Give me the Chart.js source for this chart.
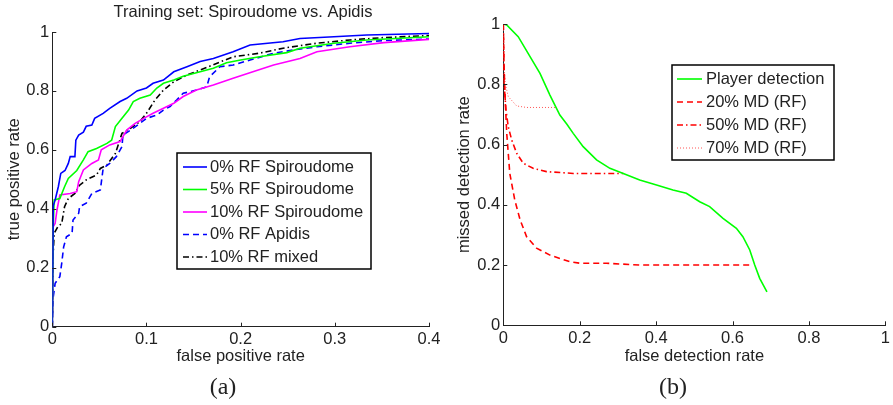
<!DOCTYPE html>
<html>
<head>
<meta charset="utf-8">
<script src="https://cdn.jsdelivr.net/npm/chart.js@4.4.0/dist/chart.umd.min.js"></script>
<style>
  body { margin: 0; background: #fff; }
  #wrap { position: relative; width: 893px; height: 405px; }
  canvas { position: absolute; top: 0; }
</style>
</head>
<body>
<div id="wrap">
  <canvas id="rocA" width="445" height="405" style="left:0"></canvas>
  <canvas id="rocB" width="448" height="405" style="left:445px"></canvas>
</div>
<script>
// ---- tick labels ----
const fprTicks = [0, 0.1, 0.2, 0.3, 0.4];
const rateTicks = [0, 0.2, 0.4, 0.6, 0.8, 1];
const fdrTicks = [0, 0.2, 0.4, 0.6, 0.8, 1];

// ---- (a) ROC curves, [fpr, tpr] ----
const rf0Spiro = [[0,0],[0.001,0.41],[0.003,0.43],[0.0064,0.475],[0.009,0.52],[0.0135,0.53],[0.017,0.554],
  [0.019,0.577],[0.024,0.577],[0.025,0.633],[0.028,0.65],[0.033,0.66],[0.036,0.68],[0.042,0.684],[0.045,0.707],
  [0.054,0.724],[0.061,0.741],[0.072,0.764],[0.079,0.775],[0.09,0.80],[0.10,0.81],[0.107,0.826],[0.118,0.837],
  [0.129,0.865],[0.143,0.882],[0.157,0.90],[0.171,0.91],[0.192,0.933],[0.21,0.956],[0.245,0.967],[0.263,0.978],
  [0.299,0.984],[0.334,0.99],[0.4,0.995]];
const rf5Spiro = [[0,0],[0.001,0.34],[0.002,0.43],[0.008,0.435],[0.013,0.475],[0.017,0.503],[0.026,0.53],
  [0.033,0.566],[0.038,0.594],[0.047,0.605],[0.058,0.622],[0.063,0.633],[0.067,0.679],[0.074,0.707],[0.081,0.735],
  [0.086,0.764],[0.093,0.775],[0.104,0.786],[0.111,0.81],[0.118,0.826],[0.129,0.837],[0.139,0.85],[0.157,0.865],
  [0.171,0.877],[0.185,0.896],[0.2,0.905],[0.22,0.916],[0.249,0.93],[0.263,0.945],[0.299,0.962],[0.334,0.973],
  [0.4,0.984]];
const rf10Spiro = [[0,0],[0.001,0.34],[0.003,0.35],[0.005,0.396],[0.008,0.447],[0.019,0.452],[0.026,0.458],
  [0.028,0.492],[0.033,0.532],[0.042,0.554],[0.049,0.566],[0.052,0.6],[0.061,0.617],[0.072,0.628],[0.079,0.667],
  [0.088,0.69],[0.097,0.707],[0.107,0.724],[0.118,0.741],[0.129,0.758],[0.139,0.781],[0.153,0.803],[0.171,0.82],
  [0.192,0.843],[0.213,0.865],[0.235,0.888],[0.263,0.91],[0.281,0.933],[0.316,0.95],[0.352,0.964],[0.4,0.975]];
const rf0Apidis = [[0,0],[0.001,0.10],[0.003,0.147],[0.008,0.17],[0.01,0.215],[0.012,0.27],[0.015,0.305],
  [0.021,0.317],[0.022,0.362],[0.028,0.385],[0.029,0.407],[0.036,0.419],[0.042,0.452],[0.051,0.464],[0.054,0.537],
  [0.061,0.554],[0.068,0.577],[0.074,0.611],[0.075,0.65],[0.083,0.667],[0.093,0.69],[0.10,0.707],[0.111,0.718],
  [0.118,0.735],[0.125,0.747],[0.132,0.769],[0.139,0.792],[0.153,0.803],[0.164,0.814],[0.167,0.848],[0.178,0.882],
  [0.192,0.888],[0.21,0.905],[0.235,0.928],[0.256,0.939],[0.281,0.95],[0.316,0.962],[0.352,0.971],[0.4,0.976]];
const rf10Mixed = [[0,0],[0.001,0.25],[0.002,0.317],[0.006,0.34],[0.01,0.35],[0.013,0.407],[0.017,0.435],
  [0.024,0.452],[0.029,0.48],[0.036,0.498],[0.047,0.515],[0.051,0.537],[0.058,0.549],[0.067,0.588],[0.074,0.656],
  [0.083,0.673],[0.093,0.696],[0.10,0.724],[0.109,0.769],[0.118,0.803],[0.129,0.831],[0.143,0.854],[0.157,0.871],
  [0.175,0.894],[0.192,0.916],[0.22,0.928],[0.245,0.945],[0.281,0.962],[0.316,0.973],[0.352,0.981],[0.4,0.988]];

// ---- (b) DET curves, [false detection, missed detection] ----
const playerDet = [[0,1],[0.009,0.997],[0.039,0.958],[0.07,0.892],[0.096,0.836],[0.122,0.764],[0.148,0.698],
  [0.166,0.668],[0.183,0.637],[0.209,0.593],[0.244,0.549],[0.279,0.521],[0.314,0.504],[0.357,0.482],[0.401,0.466],
  [0.444,0.449],[0.479,0.438],[0.514,0.41],[0.54,0.394],[0.575,0.355],[0.61,0.322],[0.627,0.294],[0.645,0.25],
  [0.658,0.2],[0.671,0.156],[0.69,0.111]];
const md20 = [[0,1],[0.002,0.858],[0.005,0.748],[0.009,0.637],[0.017,0.504],[0.03,0.416],[0.044,0.35],
  [0.061,0.294],[0.087,0.256],[0.122,0.233],[0.174,0.211],[0.2,0.206],[0.27,0.206],[0.357,0.2],[0.653,0.2]];
const md50 = [[0,1],[0.002,0.803],[0.007,0.715],[0.013,0.659],[0.022,0.615],[0.035,0.571],[0.052,0.538],
  [0.078,0.521],[0.113,0.51],[0.183,0.504],[0.314,0.504]];
const md70 = [[0,1],[0.002,0.858],[0.005,0.803],[0.013,0.759],[0.035,0.728],[0.061,0.723],[0.139,0.723]];

const FONT = '"Liberation Sans", Arial, sans-serif';
const CAPTION = '24px "Liberation Serif", "DejaVu Serif", serif';
const TXT = '#222';
const pts = a => a.map(p => ({ x: p[0], y: p[1] }));

// ticks drawn inside the axes, matlab style
const inTicks = {
  id: 'inTicks',
  afterDatasetsDraw(chart) {
    const { ctx, chartArea: a, scales: { x, y } } = chart;
    ctx.save();
    ctx.strokeStyle = TXT;
    ctx.lineWidth = 1;
    ctx.beginPath();
    x.ticks.forEach(t => {
      const px = Math.round(x.getPixelForValue(t.value)) + 0.5;
      ctx.moveTo(px, a.bottom); ctx.lineTo(px, a.bottom - 4);
    });
    y.ticks.forEach(t => {
      const py = Math.round(y.getPixelForValue(t.value)) + 0.5;
      ctx.moveTo(a.left, py); ctx.lineTo(a.left + 4, py);
    });
    ctx.stroke();
    ctx.restore();
  }
};

// boxed legend inside the plot
const boxLegend = {
  id: 'boxLegend',
  afterDraw(chart, args, o) {
    const ctx = chart.ctx;
    ctx.save();
    ctx.fillStyle = '#fff';
    ctx.fillRect(o.x, o.y, o.w, o.h);
    ctx.strokeStyle = '#000';
    ctx.lineWidth = 1.5;
    ctx.strokeRect(o.x, o.y, o.w, o.h);
    ctx.font = '16.5px ' + FONT;
    ctx.textBaseline = 'middle';
    chart.data.datasets.forEach((ds, i) => {
      const cy = o.y + o.first + i * o.rowH;
      ctx.strokeStyle = ds.borderColor;
      ctx.lineWidth = ds.borderWidth;
      ctx.setLineDash(ds.borderDash || []);
      ctx.beginPath();
      ctx.moveTo(o.x + o.lineX, cy);
      ctx.lineTo(o.x + o.lineX + o.lineLen, cy);
      ctx.stroke();
      ctx.setLineDash([]);
      ctx.fillStyle = TXT;
      ctx.fillText(ds.label, o.x + o.textX, cy);
    });
    ctx.restore();
  }
};

// title and caption
const texts = {
  id: 'texts',
  afterDraw(chart, args, o) {
    const ctx = chart.ctx;
    ctx.save();
    ctx.textAlign = 'center';
    ctx.textBaseline = 'middle';
    ctx.fillStyle = TXT;
    o.items.forEach(t => {
      ctx.font = t.font;
      ctx.fillText(t.text, t.x, t.y);
    });
    ctx.restore();
  }
};

function axis(ticks, min, max, title, fit, titlePad) {
  return {
    type: 'linear',
    min: min,
    max: max,
    afterBuildTicks: s => { s.ticks = ticks.map(v => ({ value: v })); },
    afterFit: fit,
    grid: { display: false, drawTicks: false },
    border: { display: true, color: TXT, width: 1 },
    ticks: { color: TXT, padding: 3, font: { family: FONT, size: 16.5 }, callback: v => String(v) },
    title: { display: true, text: title, color: TXT, font: { family: FONT, size: 16.5 }, padding: titlePad }
  };
}

function line(label, data, color, dash, width) {
  return {
    label: label,
    data: pts(data),
    borderColor: color,
    borderWidth: width || 1.6,
    borderDash: dash,
    pointRadius: 0,
    fill: false,
    tension: 0
  };
}

new Chart(document.getElementById('rocA'), {
  type: 'line',
  data: {
    datasets: [
      line('0% RF Spiroudome', rf0Spiro, '#0000ff', []),
      line('5% RF Spiroudome', rf5Spiro, '#00ff00', []),
      line('10% RF Spiroudome', rf10Spiro, '#ff00ff', []),
      line('0% RF Apidis', rf0Apidis, '#0000ff', [6, 4]),
      line('10% RF mixed', rf10Mixed, '#000000', [6, 3, 1.5, 3])
    ]
  },
  options: {
    responsive: false,
    animation: false,
    layout: { padding: { top: 32, right: 16, left: 0, bottom: 0 } },
    scales: {
      x: axis(fprTicks, 0, 0.4, 'false positive rate', s => { s.height = 78.3; }, { top: 0, bottom: 39 }),
      y: axis(rateTicks, 0, 1, 'true positive rate', s => { s.width = 52.3; }, { top: 5, bottom: 0 })
    },
    plugins: {
      legend: { display: false },
      tooltip: { enabled: false },
      boxLegend: { x: 177, y: 153, w: 194, h: 116, first: 14, rowH: 22.5, lineX: 6, lineLen: 24, textX: 33 },
      texts: { items: [
        { text: 'Training set: Spiroudome vs. Apidis', x: 243, y: 12, font: '16.5px ' + FONT },
        { text: '(a)', x: 223, y: 388, font: CAPTION }
      ] }
    }
  },
  plugins: [inTicks, boxLegend, texts]
});

new Chart(document.getElementById('rocB'), {
  type: 'line',
  data: {
    datasets: [
      line('Player detection', playerDet, '#00ff00', []),
      line('20% MD (RF)', md20, '#ff0000', [6, 4]),
      line('50% MD (RF)', md50, '#ff0000', [6, 3, 1.5, 3]),
      line('70% MD (RF)', md70, '#ff5555', [1, 2], 1)
    ]
  },
  options: {
    responsive: false,
    animation: false,
    layout: { padding: { top: 24, right: 7, left: 0, bottom: 0 } },
    scales: {
      x: axis(fdrTicks, 0, 1, 'false detection rate', s => { s.height = 79.7; }, { top: 0, bottom: 39 }),
      y: axis(rateTicks, 0, 1, 'missed detection rate', s => { s.width = 58.3; }, { top: 10, bottom: 0 })
    },
    plugins: {
      legend: { display: false },
      tooltip: { enabled: false },
      boxLegend: { x: 227, y: 65, w: 162, h: 95, first: 14, rowH: 23, lineX: 5, lineLen: 25, textX: 34 },
      texts: { items: [
        { text: '(b)', x: 228, y: 388, font: CAPTION }
      ] }
    }
  },
  plugins: [inTicks, boxLegend, texts]
});
</script>
</body>
</html>
